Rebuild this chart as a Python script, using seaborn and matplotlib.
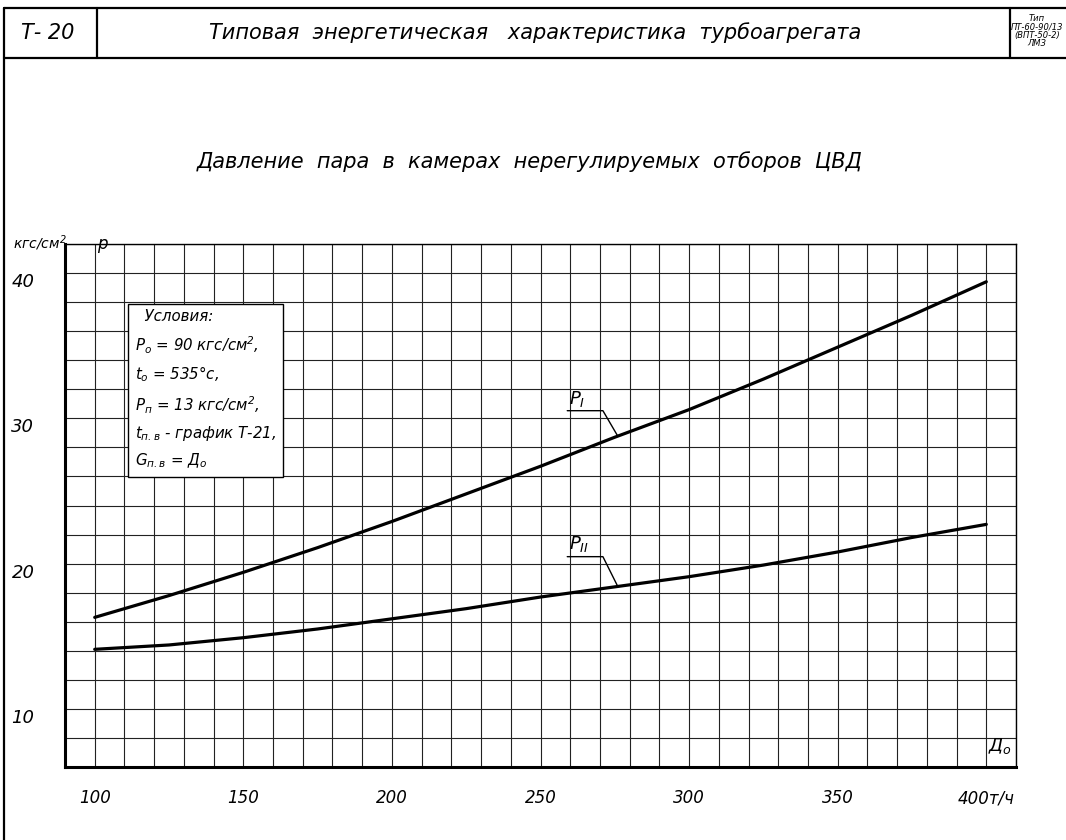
import numpy as np
import pandas as pd
import matplotlib.pyplot as plt
import seaborn as sns
from matplotlib.lines import Line2D

# steam flow D0, t/h
flow = [100, 125, 150, 175, 200, 225, 250, 275, 300, 325, 350, 375, 400]
# pressure in extraction chambers, kgf/cm2
p_one = [16.3, 17.8, 19.4, 21.1, 22.9, 24.8, 26.7, 28.7, 30.6, 32.7, 34.9, 37.1, 39.4]
p_two = [14.1, 14.4, 14.9, 15.5, 16.2, 16.9, 17.7, 18.4, 19.1, 19.9, 20.8, 21.8, 22.7]

x_ticks = [100, 150, 200, 250, 300, 350, 400]
x_labels = ['100', '150', '200', '250', '300', '350', '400т/ч']
y_ticks = [10, 20, 30, 40]
y_labels = ['10', '20', '30', '40']

conditions = ['  Условия:',
              r'$P_o$ = 90 кгс/см$^2$,',
              r'$t_o$ = 535°c,',
              r'$P_п$ = 13 кгс/см$^2$,',
              r'$t_{п.в}$ - график Т-21,',
              r'$G_{п.в}$ = $Д_o$']

sns.set_style("white")
plt.rcParams['font.family'] = ['DejaVu Sans']
plt.rcParams['font.style'] = 'italic'
plt.rcParams['mathtext.fontset'] = 'dejavusans'
plt.rcParams['text.color'] = 'black'
plt.rcParams['xtick.color'] = 'black'
plt.rcParams['ytick.color'] = 'black'

df = pd.DataFrame({'D': flow, 'PI': p_one, 'PII': p_two})
long = df.melt(id_vars='D', var_name='series', value_name='P')

fig = plt.figure(figsize=(10.66, 8.4), dpi=100)
W, H = 1066, 840
ax = fig.add_axes([65 / W, 1 - 767 / H, (1016 - 65) / W, (767 - 244) / H])

sns.lineplot(data=long, x='D', y='P', hue='series', palette={'PI': 'black', 'PII': 'black'},
             linewidth=2.3, legend=False, ax=ax)

ax.set_xlim(90, 410)
ax.set_ylim(6, 42)
ax.set_xticks(x_ticks)
ax.set_xticklabels(x_labels, fontsize=12)
ax.set_yticks(y_ticks)
ax.set_yticklabels(y_labels, fontsize=13, va='top')
ax.set_xticks(np.arange(90, 411, 10), minor=True)
ax.set_yticks(np.arange(6, 43, 2), minor=True)
ax.grid(which='both', color='#222222', linewidth=0.8)
ax.tick_params(axis='x', which='both', length=0, pad=16)
ax.tick_params(axis='y', which='major', length=6, width=1.5, pad=16)
ax.tick_params(axis='y', which='minor', length=0)
ax.set_xlabel('')
ax.set_ylabel('')
for side in ['left', 'bottom']:
    ax.spines[side].set_linewidth(2.2)
for side in ['top', 'right']:
    ax.spines[side].set_linewidth(1.0)
for s in ax.spines.values():
    s.set_color('black')

# curve labels with leader lines
for vals, name, lift in [(p_one, r'$P_{\mathrm{I}}$', 1.75), (p_two, r'$P_{\mathrm{II}}$', 2.05)]:
    tx = 276
    ty = np.interp(tx, flow, vals)
    ax.plot([259, 271, tx], [ty + lift, ty + lift, ty], color='black', linewidth=1.0)
    ax.text(259.5, ty + lift + 0.15, name, fontsize=13, ha='left', va='bottom')

# conditions box
ax.text(113.5, 37.5, '\n'.join(conditions), fontsize=10.8, va='top', ha='left', linespacing=1.6,
        bbox=dict(boxstyle='square,pad=0.45', facecolor='white', edgecolor='black', linewidth=1.0))

# axis captions
fig.text(40 / W, 1 - 243 / H, 'кгс/см$^2$', fontsize=10, ha='center', va='center')
fig.text(97 / W, 1 - 244 / H, 'p', fontsize=12, ha='left', va='center')
fig.text(1000 / W, 1 - 746 / H, '$Д_o$', fontsize=13, ha='center', va='center')

# titles
fig.text(530 / W, 1 - 162 / H, 'Давление  пара  в  камерах  нерегулируемых  отборов  ЦВД',
         fontsize=15, ha='center', va='center')
fig.text(535 / W, 1 - 33 / H, 'Типовая  энергетическая   характеристика  турбоагрегата',
         fontsize=15, ha='center', va='center')
fig.text(48 / W, 1 - 33 / H, 'Т- 20', fontsize=15, ha='center', va='center')
fig.text(1037 / W, 1 - 31 / H, 'Тип\nПТ-60-90/13\n(ВПТ-50-2)\nЛМЗ', fontsize=6,
         ha='center', va='center', linespacing=0.95)

# drawing frame
frame = [((4, 4), (8, 840)), ((4, 1066), (8, 8)), ((4, 1066), (58, 58)),
         ((97, 97), (8, 58)), ((1010, 1010), (8, 58))]
for (xs, ys) in frame:
    fig.add_artist(Line2D([x / W for x in xs], [1 - y / H for y in ys],
                          color='black', linewidth=1.6))

fig.savefig('out.png', dpi=100, facecolor='white')
